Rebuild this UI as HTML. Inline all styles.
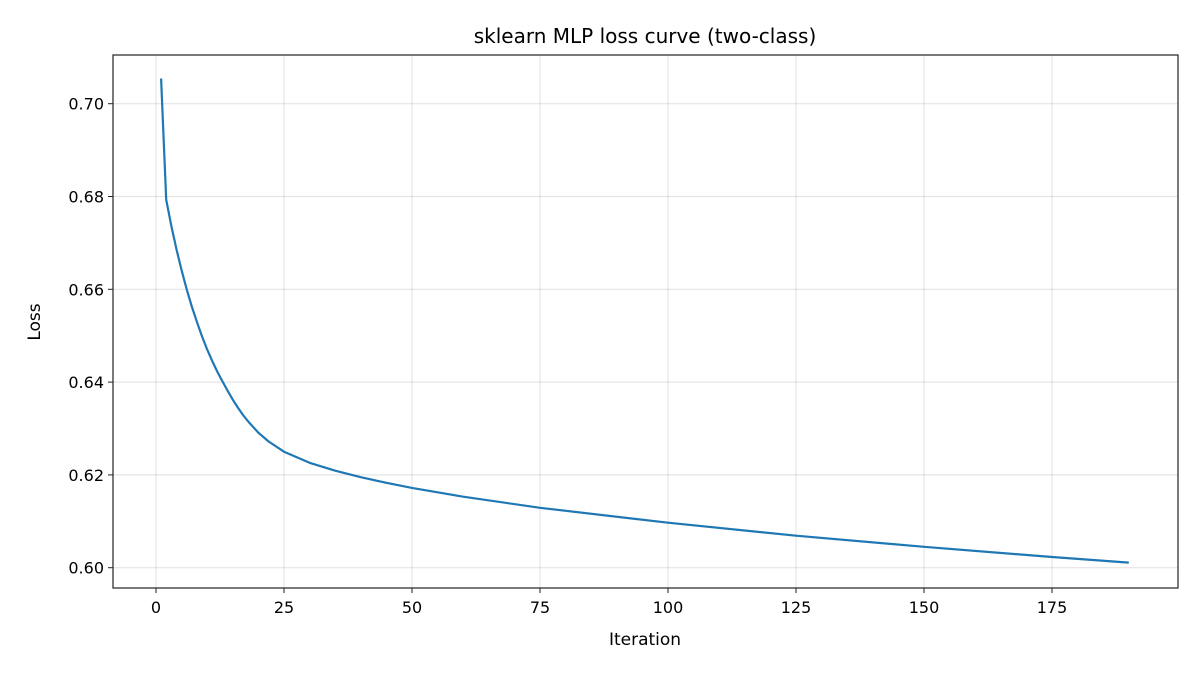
<!DOCTYPE html>
<html><head><meta charset="utf-8"><style>
body{margin:0;background:#fff}
svg{font-family:"DejaVu Sans","Liberation Sans",sans-serif}
</style></head><body>
<svg id="chart" width="1200" height="675" viewBox="0 0 1200 675">
<rect width="1200" height="675" fill="#fff"/>
<g id="grid"></g>
<g id="ticks"></g>
<path id="line" fill="none" stroke="#1f77b4" stroke-width="2.2" stroke-linejoin="round"/>
<rect x="113" y="55" width="1065" height="533" fill="none" stroke="#222" stroke-width="1.2"/>
<text x="645" y="43" text-anchor="middle" font-size="20" fill="#000">sklearn MLP loss curve (two-class)</text>
<text x="645" y="645" text-anchor="middle" font-size="17" fill="#000">Iteration</text>
<text transform="translate(40,322) rotate(-90)" text-anchor="middle" font-size="17" fill="#000">Loss</text>
</svg>
<script>
const iterations=[1,2,3,4,5,6,7,8,9,10,11,12,13,14,15,16,17,18,20,22,25,30,35,40,45,50,60,75,100,125,150,175,190];
const lossValues=[0.7054,0.6793,0.6736,0.6686,0.6641,0.6600,0.6563,0.6529,0.6498,0.6470,0.6445,0.6422,0.6401,0.6381,0.6362,0.6345,0.6329,0.6315,0.6291,0.6272,0.6250,0.6226,0.6209,0.6195,0.6183,0.6172,0.6153,0.6129,0.6097,0.6069,0.6045,0.6023,0.6011];
const xTicks=[0,25,50,75,100,125,150,175];
const yTicks=[0.60,0.62,0.64,0.66,0.68,0.70];
const NS="http://www.w3.org/2000/svg";
const X=v=>156+v*5.12;
const Y=v=>103.7+(0.70-v)*4640;
const grid=document.getElementById('grid'),ticks=document.getElementById('ticks');
function mk(tag,attrs,parent){const e=document.createElementNS(NS,tag);for(const k in attrs)e.setAttribute(k,attrs[k]);parent.appendChild(e);return e;}
xTicks.forEach(t=>{
 const g=mk('line',{x1:X(t),x2:X(t),y1:55,y2:588,stroke:'#000','stroke-opacity':0.1,'stroke-width':1.2},grid);
 
 
 const tk=mk('line',{x1:X(t),x2:X(t),y1:588,y2:593,stroke:'#222','stroke-width':1},ticks);
 
 
 const tx=mk('text',{x:X(t),y:613,'text-anchor':'middle','font-size':16,fill:'#000'},ticks);
 tx.textContent=t;
 
 
});
yTicks.forEach(t=>{
 const g=mk('line',{x1:113,x2:1178,y1:Y(t),y2:Y(t),stroke:'#000','stroke-opacity':0.1,'stroke-width':1.2},grid);
 
 
 const tk=mk('line',{x1:108,x2:113,y1:Y(t),y2:Y(t),stroke:'#222','stroke-width':1},ticks);
 
 
 const tx=mk('text',{x:104,y:Y(t)+6,'text-anchor':'end','font-size':16,fill:'#000'},ticks);
 tx.textContent=t.toFixed(2);
 
 
});
document.getElementById('line').setAttribute('d',iterations.map((it,i)=>(i?'L':'M')+X(it).toFixed(1)+','+Y(lossValues[i]).toFixed(1)).join(' '));
</script>
</body></html>
